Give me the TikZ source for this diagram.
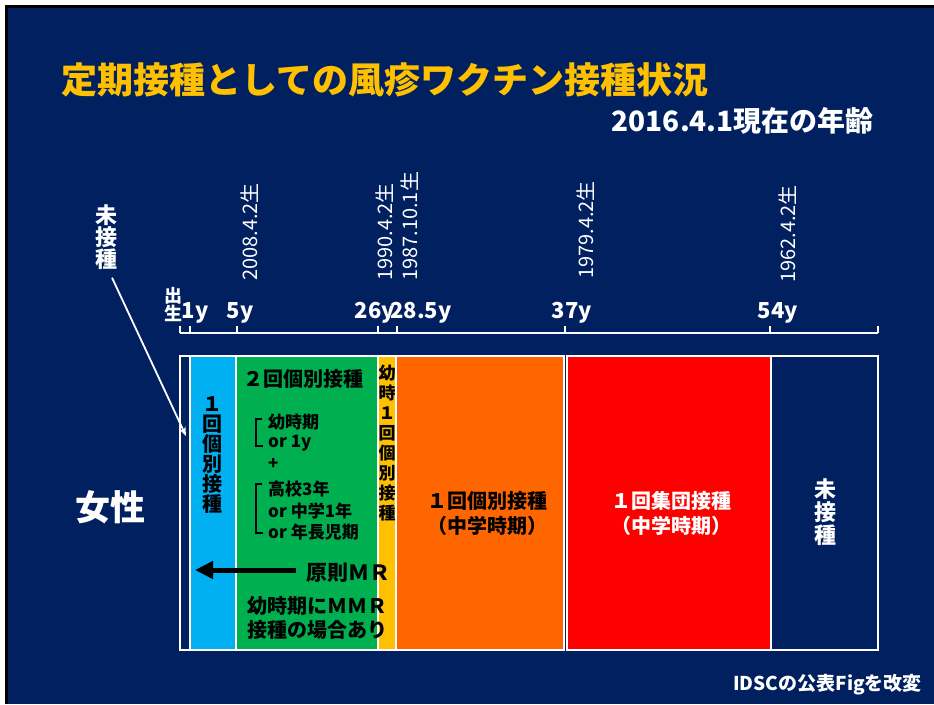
\documentclass[tikz,border=0pt]{standalone}
\usepackage{fontspec}
\setmainfont{Noto Sans CJK JP}
\usetikzlibrary{arrows.meta}
\definecolor{bgnavy}{RGB}{0,32,96}
\definecolor{titley}{RGB}{255,192,0}
\definecolor{cyanb}{RGB}{0,176,240}
\definecolor{greenb}{RGB}{0,176,80}
\definecolor{yellowb}{RGB}{255,192,0}
\definecolor{orangeb}{RGB}{255,102,0}
\definecolor{redb}{RGB}{255,0,0}
\newcommand\fsz[2]{\fontsize{#1}{#2}\selectfont}
\begin{document}
\begin{tikzpicture}[x=1pt,y=-1pt,
  band/.style={draw=white, line width=2pt, inner sep=0pt, outer sep=0pt, anchor=north west},
  wlbl/.style={inner sep=0pt, text=white, font=\bfseries\fsz{22}{22}},
  blbl/.style={inner sep=0pt, text=black, font=\bfseries\fsz{20}{20}, align=center},
  small/.style={inner sep=0pt, text=black, font=\bfseries\fsz{17}{17}, anchor=west},
  datelbl/.style={inner sep=0pt, text=white, font=\fsz{20}{20}, rotate=90, anchor=west},
  agelbl/.style={inner sep=0pt, text=white, font=\bfseries\fsz{22}{22}, anchor=base},
  axisline/.style={draw=white, line width=2pt},
  brack/.style={draw=black, line width=2.6pt}]
\useasboundingbox (0,0) rectangle (934,704);
\fill[white] (0,0) rectangle (934,704);
\fill[black] (5,5) rectangle (934,704);
\fill[bgnavy] (8,8) rectangle (934,704);
% title
\node[anchor=west, inner sep=0pt, text=titley, font=\bfseries\fsz{36}{36}] (title) at (61,80) {定期接種としての風疹ワクチン接種状況};
\node[anchor=east, inner sep=0pt, text=white, font=\bfseries\fsz{28}{28}] (subtitle) at (874,121) {2016.4.1現在の年齢};
% axis
\draw[axisline] (180,333) -- (878,333);
\foreach \x in {180,190,237,378,397,565,770,878} \draw[axisline] (\x,326) -- (\x,333);
\node[wlbl, font=\bfseries\fsz{18}{18}, align=center] (birth) at (173,305) {出\\生};
\node[agelbl] (a1) at (195,318) {1y};
\node[agelbl] (a5) at (240,318) {5y};
\node[agelbl] (a26) at (375,318) {26y};
\node[agelbl] (a285) at (421,318) {28.5y};
\node[agelbl] (a37) at (572,318) {37y};
\node[agelbl] (a54) at (778,318) {54y};
\node[datelbl] (d2008) at (250,281) {2008.4.2生};
\node[datelbl] (d1990) at (385,281) {1990.4.2生};
\node[datelbl] (d1987) at (410,281) {1987.10.1生};
\node[datelbl] (d1979) at (586,279) {1979.4.2生};
\node[datelbl] (d1962) at (788,283) {1962.4.2生};
% bands
\node[band, fill=bgnavy, minimum width=10pt, minimum height=294pt] (strip) at (180,356) {};
\node[band, fill=cyanb, minimum width=46pt, minimum height=294pt] (cyan) at (190,356) {};
\node[band, fill=greenb, minimum width=142pt, minimum height=294pt] (green) at (236,356) {};
\node[band, fill=yellowb, minimum width=18pt, minimum height=294pt] (yellow) at (378,356) {};
\node[band, fill=orangeb, minimum width=168pt, minimum height=294pt] (orange) at (396,356) {};
\node[band, fill=redb, minimum width=204pt, minimum height=294pt] (red) at (567,356) {};
\node[band, fill=bgnavy, minimum width=107pt, minimum height=294pt] (navy) at (771,356) {};
% left labels
\node[wlbl, align=center] (none) at (106,237) {未\\接\\種};
\node[wlbl, font=\bfseries\fsz{35}{35}] (female) at (110,507) {女性};
\coordinate (ptr) at (186,436);
\draw[white, line width=1.8pt, -{Stealth[length=9pt,width=7pt]}] (none.south) ++(6,8) -- (ptr);
% cyan text
\node[blbl] (cyantxt) at (212,455) {１\\回\\個\\別\\接\\種};
% green text
\node[blbl] (greentop) at (303,379) {２回個別接種};
\node[small] (g1) at (268,422) {幼時期};
\node[small] (g2) at (268,443) {or 1y};
\node[small] (g3) at (268,464) {+};
\node[small] (g4) at (268,489) {高校3年};
\node[small] (g5) at (268,511) {or 中学1年};
\node[small] (g6) at (268,532) {or 年長児期};
\draw[brack] (262,419) -- (256,419) -- (256,446) -- (263,446);
\draw[brack] (262,484) -- (256,484) -- (256,533) -- (263,533);
\node[blbl, anchor=west, font=\bfseries\fsz{21}{21}] (mr) at (306,573) {原則ＭＲ};
\coordinate (arrtip) at (195,570);
\draw[black, line width=5pt, -{Triangle[length=18pt,width=17pt]}] (mr.west) ++(-10,-3) -- (arrtip);
\node[blbl, anchor=west] (mmr1) at (247,606) {幼時期にＭＭＲ};
\node[blbl, anchor=west] (mmr2) at (247,630) {接種の場合あり};
% yellow text
\node[blbl, font=\bfseries\fsz{17}{20}] (yeltxt) at (387,443) {幼\\時\\１\\回\\個\\別\\接\\種};
% orange
\node[blbl, align=center, font=\bfseries\fsz{20}{25}] (oratxt) at (487,513) {１回個別接種\\（中学時期）};
% red
\node[blbl, text=white, font=\bfseries\fsz{20}{25}] (redtxt) at (671,513) {１回集団接種\\（中学時期）};
% navy
\node[wlbl, align=center, font=\bfseries\fsz{22}{23}] (navytxt) at (825,512) {未\\接\\種};
% source
\node[anchor=east, inner sep=0pt, text=white, font=\bfseries\fsz{19}{19}] (src) at (922,685) {IDSCの公表Figを改変};
\end{tikzpicture}
\end{document}
